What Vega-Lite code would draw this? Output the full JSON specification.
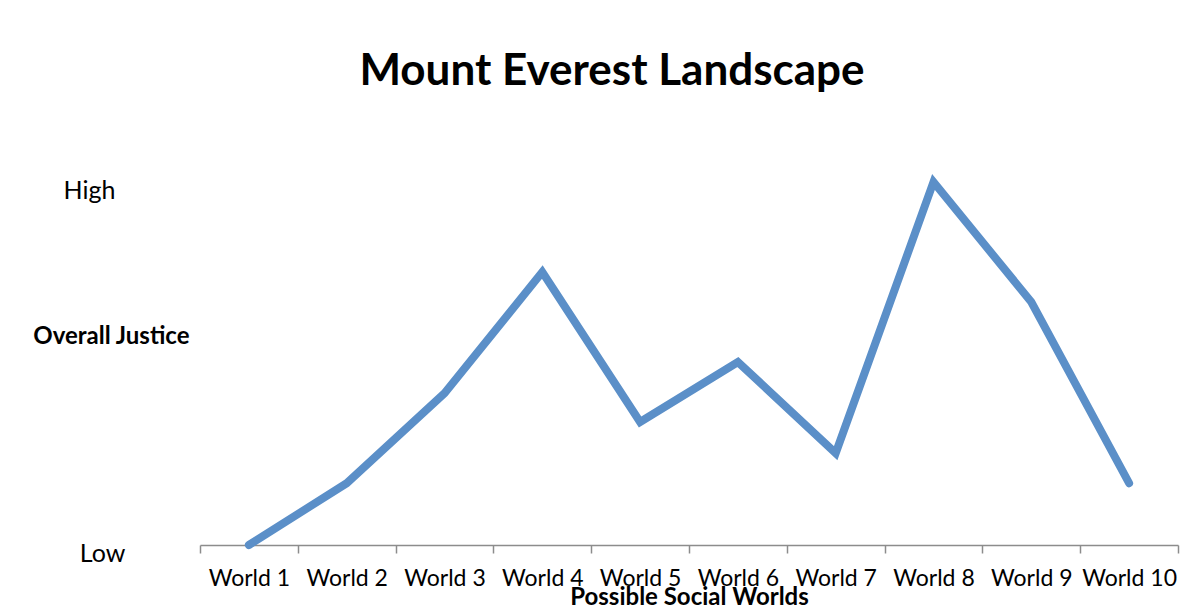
{
  "$schema": "https://vega.github.io/schema/vega-lite/v6.json",
  "autosize": "none",
  "width": 978,
  "height": 405,
  "padding": {"left": 200, "top": 140, "right": 21, "bottom": 61},
  "background": "white",
  "title": {
    "text": "Mount Everest Landscape",
    "font": "Lato",
    "fontSize": 44,
    "fontWeight": "bold",
    "color": "black",
    "anchor": "middle",
    "offset": 46,
    "frame": "group",
    "dx": -77
  },
  "config": {"view": {"stroke": null}},
  "data": {
    "values": [
      {"world": "World 1", "justice": 0},
      {"world": "World 2", "justice": 1.03},
      {"world": "World 3", "justice": 2.53},
      {"world": "World 4", "justice": 4.55},
      {"world": "World 5", "justice": 2.05},
      {"world": "World 6", "justice": 3.05},
      {"world": "World 7", "justice": 1.53},
      {"world": "World 8", "justice": 6.05},
      {"world": "World 9", "justice": 4.05},
      {"world": "World 10", "justice": 1.03}
    ]
  },
  "mark": {"type": "line", "color": "#5B8FC8", "strokeWidth": 8, "strokeCap": "round", "strokeJoin": "miter"},
  "encoding": {
    "x": {
      "field": "world",
      "type": "ordinal",
      "sort": null,
      "scale": {"type": "band", "paddingInner": 0, "paddingOuter": 0},
      "axis": {
        "title": "Possible Social Worlds",
        "titleFont": "Lato",
        "titleFontSize": 24,
        "titleFontWeight": "bold",
        "titleColor": "black",
        "titleBaseline": "middle",
        "titleY": 52,
        "labelFont": "Lato",
        "labelFontSize": 23,
        "labelColor": "black",
        "labelAngle": 0,
        "labelPadding": 14,
        "labelFlush": false,
        "labelOverlap": false,
        "domainColor": "#8c8c8c",
        "domainWidth": 1.5,
        "tickColor": "#8c8c8c",
        "tickWidth": 1.5,
        "tickSize": 8,
        "tickBand": "extent",
        "grid": false
      }
    },
    "y": {
      "field": "justice",
      "type": "quantitative",
      "scale": {"domain": [0, 6.75], "nice": false, "zero": true},
      "axis": {
        "values": [0, 6],
        "labelExpr": "datum.value == 0 ? 'Low' : 'High'",
        "labelFont": "Lato",
        "labelFontSize": 25,
        "labelColor": "black",
        "labelAlign": "center",
        "labelPadding": {"condition": {"test": "datum.value == 0", "value": 98}, "value": 111},
        "labelOffset": {"condition": {"test": "datum.value == 0", "value": 8}, "value": 5},
        "labelFlush": false,
        "ticks": false,
        "domain": false,
        "grid": false,
        "title": "Overall Justice",
        "titleFont": "Lato",
        "titleFontSize": 24,
        "titleFontWeight": "bold",
        "titleColor": "black",
        "titleAngle": 0,
        "titleAlign": "right",
        "titleBaseline": "middle",
        "titleX": -11,
        "titleY": 196
      }
    }
  }
}
